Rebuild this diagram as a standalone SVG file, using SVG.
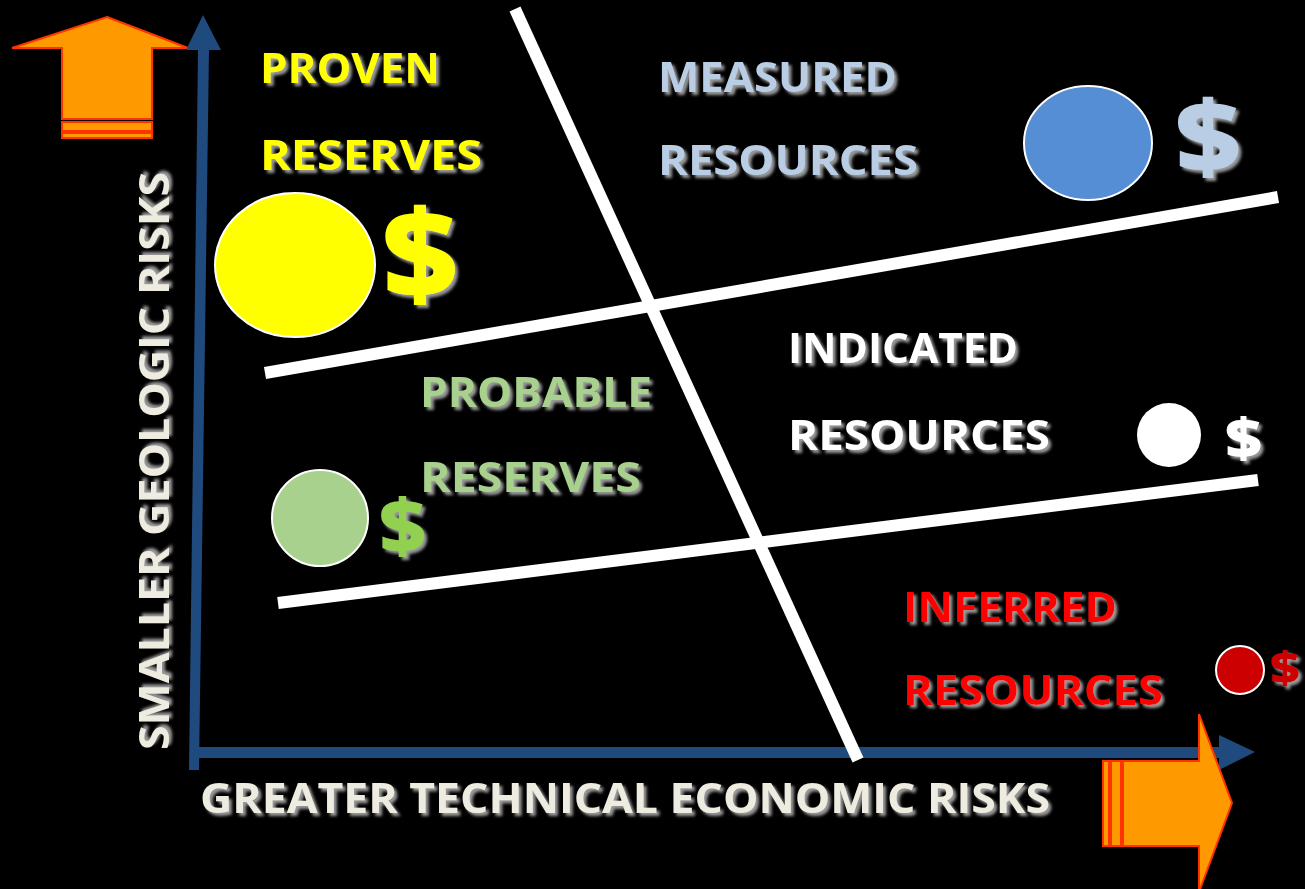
<svg xmlns="http://www.w3.org/2000/svg" width="1305" height="889" viewBox="0 0 1305 889">
  <defs>
    <filter id="shadow" x="-10%" y="-20%" width="130%" height="150%">
      <feGaussianBlur in="SourceAlpha" stdDeviation="1.8" result="b"/>
      <feOffset in="b" dx="3" dy="3" result="o"/>
      <feFlood flood-color="#9a9a9a"/>
      <feComposite in2="o" operator="in" result="s"/>
      <feMerge><feMergeNode in="s"/><feMergeNode in="SourceGraphic"/></feMerge>
    </filter>
  </defs>
  <style>
    .lbl { font-family: "Open Sans", "Liberation Sans", sans-serif; font-weight: bold; font-size: 42px; filter: url(#shadow); }
    .dollar { font-family: "Open Sans", "Liberation Sans", sans-serif; font-weight: 800; filter: url(#shadow); }
    .axis { fill: #1F4A7E; }
    .orange { fill: #FF9900; stroke: #FF3300; stroke-width: 2; }
    .divider { stroke: #FFFFFF; stroke-width: 12; fill: none; }
    .dot { stroke: #FFFFFF; stroke-width: 2; }
  </style>

  <rect width="1305" height="889" fill="#000000"/>

  <!-- orange direction arrows -->
  <g id="risk-arrow-up">
    <polygon class="orange" points="107,17 188,48 152,48 152,119 62,119 62,48 12,48"/>
    <rect class="orange" x="62" y="122" width="90" height="9"/>
    <rect class="orange" x="62" y="133" width="90" height="5"/>
  </g>

  <!-- axes -->
  <g id="axes">
    <polygon class="axis" points="198,50 209,50 199,770 189,770"/>
    <polygon class="axis" points="203,15 221,50 186,50"/>
    <rect class="axis" x="192" y="747" width="1030" height="11"/>
    <polygon class="axis" points="1219,735 1255,752 1219,770"/>
  </g>

  <g id="risk-arrow-right">
    <polygon class="orange" points="1199,714 1232,803 1199,892 1199,846 1123,846 1123,761 1199,761"/>
    <rect class="orange" x="1111" y="761" width="10" height="85"/>
    <rect class="orange" x="1103" y="761" width="6" height="85"/>
  </g>

  <!-- category dividers -->
  <g id="connectors">
    <line class="divider" x1="515" y1="9" x2="858" y2="760"/>
    <line class="divider" x1="265" y1="373" x2="1278" y2="197"/>
    <line class="divider" x1="278" y1="603" x2="1258" y2="480"/>
  </g>

  <!-- proven reserves -->
  <g id="proven">
    <text class="lbl" x="260" y="83" fill="#FFFF00" textLength="180" lengthAdjust="spacingAndGlyphs">PROVEN</text>
    <text class="lbl" x="260" y="170" fill="#FFFF00" textLength="222" lengthAdjust="spacingAndGlyphs">RESERVES</text>
    <ellipse class="dot" cx="295" cy="265" rx="80" ry="72" fill="#FFFF00"/>
    <text class="dollar" x="382" y="298" font-size="122" fill="#FFFF00" textLength="76" lengthAdjust="spacingAndGlyphs">$</text>
  </g>

  <!-- measured resources -->
  <g id="measured">
    <text class="lbl" x="658" y="92" fill="#B9CDE5" textLength="239" lengthAdjust="spacingAndGlyphs">MEASURED</text>
    <text class="lbl" x="658" y="175" fill="#B9CDE5" textLength="260" lengthAdjust="spacingAndGlyphs">RESOURCES</text>
    <ellipse class="dot" cx="1088" cy="143" rx="64" ry="57" fill="#558ED5"/>
    <text class="dollar" x="1175" y="172" font-size="100" fill="#B9CDE5" textLength="66" lengthAdjust="spacingAndGlyphs">$</text>
  </g>

  <!-- probable reserves -->
  <g id="probable">
    <text class="lbl" x="420" y="407" fill="#A9D18E" textLength="232" lengthAdjust="spacingAndGlyphs">PROBABLE</text>
    <text class="lbl" x="420" y="492" fill="#A9D18E" textLength="221" lengthAdjust="spacingAndGlyphs">RESERVES</text>
    <circle class="dot" cx="320" cy="518" r="48" fill="#A9D18E"/>
    <text class="dollar" x="379" y="553" font-size="74" fill="#92D050" textLength="47" lengthAdjust="spacingAndGlyphs">$</text>
  </g>

  <!-- indicated resources -->
  <g id="indicated">
    <text class="lbl" x="788" y="363" fill="#FFFFFF" textLength="230" lengthAdjust="spacingAndGlyphs">INDICATED</text>
    <text class="lbl" x="788" y="450" fill="#FFFFFF" textLength="262" lengthAdjust="spacingAndGlyphs">RESOURCES</text>
    <circle cx="1169" cy="435" r="32" fill="#FFFFFF"/>
    <text class="dollar" x="1225" y="458" font-size="54" fill="#FFFFFF" textLength="37" lengthAdjust="spacingAndGlyphs">$</text>
  </g>

  <!-- inferred resources -->
  <g id="inferred">
    <text class="lbl" x="903" y="622" fill="#FF0000" textLength="214" lengthAdjust="spacingAndGlyphs">INFERRED</text>
    <text class="lbl" x="903" y="705" fill="#FF0000" textLength="260" lengthAdjust="spacingAndGlyphs">RESOURCES</text>
    <circle class="dot" cx="1240" cy="670" r="24" fill="#CC0000"/>
    <text class="dollar" x="1270" y="684" font-size="44" fill="#CC0000" textLength="30" lengthAdjust="spacingAndGlyphs">$</text>
  </g>

  <!-- axis titles -->
  <g id="axis-titles">
    <text class="lbl" x="200" y="813" font-size="44" fill="#EEECE1" textLength="850" lengthAdjust="spacingAndGlyphs">GREATER TECHNICAL ECONOMIC RISKS</text>
    <text class="lbl" transform="translate(169,750) rotate(-90)" x="0" y="0" font-size="44" fill="#EEECE1" textLength="578" lengthAdjust="spacingAndGlyphs">SMALLER GEOLOGIC RISKS</text>
  </g>
</svg>
